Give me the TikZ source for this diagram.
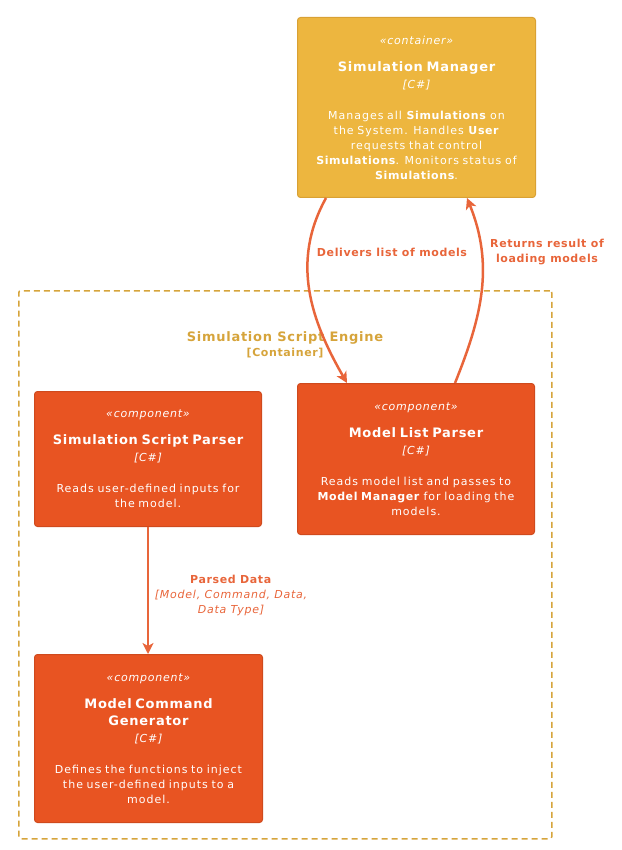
\documentclass[tikz,border=0pt]{standalone}
\usepackage{fontspec}
\setmainfont{DejaVu Sans}[UprightFeatures={LetterSpace=9},
  BoldFeatures={LetterSpace=5.5},ItalicFeatures={LetterSpace=7},
  BoldItalicFeatures={LetterSpace=5.5}]
\usetikzlibrary{arrows.meta}

\definecolor{mgrfill}{HTML}{EDB63F}
\definecolor{mgrline}{HTML}{D9A134}
\definecolor{compfill}{HTML}{E85422}
\definecolor{compline}{HTML}{CF4A1D}
\definecolor{relcol}{HTML}{E8653A}
\definecolor{engcol}{HTML}{D6A43B}

\begin{document}
\begin{tikzpicture}[x=1pt,y=1pt,>={Stealth[length=11pt,width=11pt,inset=3pt]},
    box/.style={rounded corners=3pt,line width=1pt,text=white,inner sep=0pt,
                align=center,anchor=north west,font=\fontsize{11}{15}\selectfont},
    container/.style={box,draw=mgrline,fill=mgrfill},
    component/.style={box,draw=compline,fill=compfill},
    boundary/.style={draw=engcol,dashed,dash pattern=on 6pt off 4pt,line width=1.5pt,
                     rounded corners=2pt,inner sep=0pt,anchor=north west},
    rel/.style={->,draw=relcol,line width=2.5pt},
    lbl/.style={text=relcol,align=center,font=\fontsize{11}{15}\selectfont}]

  \useasboundingbox (0,0) rectangle (621,-850);

  % container boundary
  \node[boundary,minimum width=533pt,minimum height=548pt] (engine) at (18,-290) {};
  \node[text=engcol,align=center,font=\bfseries\fontsize{11}{15}\selectfont] (enginelabel) at (285,-345)
    {{\fontsize{13}{15}\selectfont Simulation Script Engine}\\[0pt]{[Container]}};

  \node[container,text width=238pt,minimum height=180pt] (mgr) at (297,-17)
    {{\itshape\fontsize{11}{12}\selectfont «container»}\\[12pt]
     {\bfseries\fontsize{13}{15}\selectfont Simulation Manager}\\[2pt]
     {\itshape [C\#]}\\[16pt]
     Manages all \textbf{Simulations} on\\
     the System. Handles \textbf{User}\\
     requests that control\\
     \textbf{Simulations}. Monitors status of\\
     \textbf{Simulations}.};

  \node[component,text width=227pt,minimum height=135pt] (ssp) at (34,-391)
    {{\itshape\fontsize{11}{12}\selectfont «component»}\\[12pt]
     {\bfseries\fontsize{13}{15}\selectfont Simulation Script Parser}\\[2pt]
     {\itshape [C\#]}\\[16pt]
     Reads user-defined inputs for\\
     the model.};

  \node[component,text width=237pt,minimum height=151pt] (mlp) at (297,-383)
    {{\itshape\fontsize{11}{12}\selectfont «component»}\\[12pt]
     {\bfseries\fontsize{13}{15}\selectfont Model List Parser}\\[2pt]
     {\itshape [C\#]}\\[16pt]
     Reads model list and passes to\\
     \textbf{Model Manager} for loading the\\
     models.};

  \node[component,text width=228pt,minimum height=168pt] (mcg) at (34,-654)
    {{\itshape\fontsize{11}{12}\selectfont «component»}\\[12pt]
     {\bfseries\fontsize{13}{15}\selectfont Model Command}\\[2pt]
     {\bfseries\fontsize{13}{15}\selectfont Generator}\\[2pt]
     {\itshape [C\#]}\\[16pt]
     Defines the functions to inject\\
     the user-defined inputs to a\\
     model.};

  % relations
  \draw[rel] ([xshift=29pt]mgr.south west) to[out=-119,in=120] ([xshift=50pt]mlp.north west);
  \node[lbl,font=\bfseries\fontsize{11}{15}\selectfont] (deliv) at (392,-252) {Delivers list of models};

  \draw[rel] ([xshift=158pt]mlp.north west) to[out=68,in=-68] ([xshift=170pt]mgr.south west);
  \node[lbl,font=\bfseries\fontsize{11}{15}\selectfont] (returns) at (547,-252)
    {Returns result of\\loading models};

  \draw[rel] (ssp.south) -- (ssp.south |- mcg.north)
    node[lbl,midway,xshift=83pt,yshift=-5pt]
    {\textbf{Parsed Data}\\\itshape [Model, Command, Data,\\\itshape Data Type]};
\end{tikzpicture}
\end{document}
